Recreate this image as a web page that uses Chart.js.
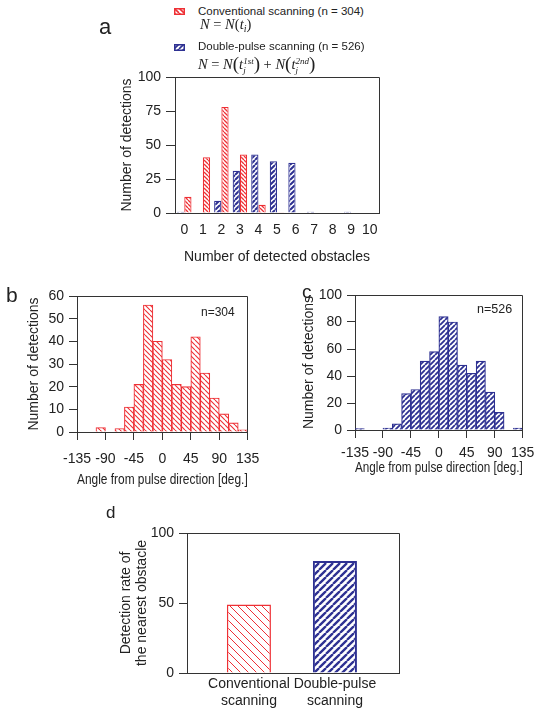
<!DOCTYPE html>
<html>
<head>
<meta charset="utf-8">
<script src="https://cdn.jsdelivr.net/npm/chart.js@4.4.1/dist/chart.umd.min.js"></script>
<style>
  body { margin: 0; background: #fff; width: 541px; height: 714px; position: relative; overflow: hidden;
         font-family: "Liberation Sans", Arial, sans-serif; color: #222; }
  canvas { position: absolute; }
  .txt { position: absolute; line-height: 1; white-space: nowrap; }
  .math { position: absolute; line-height: 1; white-space: nowrap; font-family: "Liberation Serif", "Times New Roman", serif; font-size: 14.5px; }
  .math sub { font-size: 10px; vertical-align: -3px; }
  .ss { display: inline-block; vertical-align: -4px; font-size: 9px; line-height: 8.5px; text-align: left; }
  .ss span { display: block; }
  .big { font-size: 19px; vertical-align: -1px; }
</style>
</head>
<body>
<canvas id="chartA" width="300" height="210" style="left:100px;top:60px;width:300px;height:210px"></canvas>
<canvas id="chartB" width="270" height="220" style="left:0px;top:280px;width:270px;height:220px"></canvas>
<canvas id="chartC" width="271" height="220" style="left:270px;top:280px;width:271px;height:220px"></canvas>
<canvas id="chartD" width="420" height="214" style="left:60px;top:500px;width:420px;height:214px"></canvas>

<canvas id="swRed" width="11" height="7" style="left:174px;top:8px"></canvas>
<canvas id="swBlue" width="11" height="7" style="left:174px;top:44px"></canvas>
<div class="txt" style="left:198px;top:6px;font-size:11.5px">Conventional scanning (n = 304)</div>
<div class="math" style="left:200px;top:17.2px"><i>N</i> = <i>N</i>(<i>t</i><sub><i>i</i></sub>)</div>
<div class="txt" style="left:198px;top:41px;font-size:11.5px">Double-pulse scanning (n = 526)</div>
<div class="math" style="left:198px;top:53.8px"><i>N</i> = <i>N</i><span class="big">(</span><i>t</i><span class="ss"><span><i>1st</i></span><span><i>j</i></span></span><span class="big">)</span> + <i>N</i><span class="big">(</span><i>t</i><span class="ss"><span><i>2nd</i></span><span><i>j</i></span></span><span class="big">)</span></div>

<div class="txt" style="left:99px;top:16.4px;font-size:22px">a</div>
<div class="txt" style="left:6px;top:284px;font-size:21px">b</div>
<div class="txt" style="left:302px;top:282px;font-size:19px">c</div>
<div class="txt" style="left:106px;top:503.6px;font-size:17px">d</div>
<div class="txt" style="left:201px;top:305.8px;font-size:12px">n=304</div>
<div class="txt" style="left:477px;top:303.4px;font-size:12.5px">n=526</div>

<script>
// panel a: number of detected obstacles
const obstacleCounts = ['0', '1', '2', '3', '4', '5', '6', '7', '8', '9', '10'];
const conventionalCounts = [12, 41, 78, 43, 6, 0.5, 0, 0, 0, 0, 0];
const doublePulseCounts = [1, 0, 9, 31, 43, 38, 37, 1, 0, 1, 0];

// panels b and c: angle histograms, 15 deg bins
const angleBinCenters = [-127.5, -112.5, -97.5, -82.5, -67.5, -52.5, -37.5, -22.5, -7.5,
                         7.5, 22.5, 37.5, 52.5, 67.5, 82.5, 97.5, 112.5, 127.5];
const conventionalAngles = [0, 0, 2, 0, 1.5, 11, 21, 56, 40, 32, 21, 20, 42, 26, 15, 8, 4, 1];
const doublePulseAngles = [1, 0, 0, 1.5, 4.5, 27, 30, 51, 58, 84, 80, 48, 42, 51, 28, 13, 0, 1.5];

// panel d: detection rate of the nearest obstacle
const methods = [['Conventional', 'scanning'], ['Double-pulse', 'scanning']];
const nearestRate = [49, 80];

const axisColor = '#333';
const red = '#ee3035';
const blue = '#2e3192';

Chart.defaults.font.family = '"Liberation Sans", Arial, sans-serif';
Chart.defaults.font.size = 14;
Chart.defaults.color = '#222';

// diagonal hatch; slope 1 = "/", -1 = "\"
function hatch(color, size, lw, slope) {
  const c = document.createElement('canvas');
  c.width = c.height = size;
  const g = c.getContext('2d');
  g.fillStyle = '#fff';
  g.fillRect(0, 0, size, size);
  g.strokeStyle = color;
  g.lineWidth = lw;
  g.beginPath();
  for (let k = -1; k <= 1; k++) {
    if (slope > 0) {
      g.moveTo(k * size, size); g.lineTo(k * size + size, 0);
    } else {
      g.moveTo(k * size, 0); g.lineTo(k * size + size, size);
    }
  }
  g.stroke();
  return g.createPattern(c, 'repeat');
}

// top and right edges of the plot frame
const boxPlugin = {
  id: 'box',
  afterDatasetsDraw(chart) {
    const { ctx, chartArea: a } = chart;
    const l = Math.round(a.left - 0.5) + 0.5, r = Math.round(a.right - 0.5) + 0.5;
    const t = Math.round(a.top - 0.5) + 0.5, b = Math.round(a.bottom - 0.5) + 0.5;
    ctx.save();
    ctx.strokeStyle = axisColor;
    ctx.lineWidth = 1;
    ctx.beginPath();
    ctx.moveTo(l, t); ctx.lineTo(r, t); ctx.lineTo(r, b);
    ctx.stroke();
    ctx.restore();
  }
};

function yAxis(max, step, title, titlePad, width) {
  return {
    min: 0, max: max,
    ticks: { stepSize: step, padding: 5, color: '#222' },
    grid: { display: true, drawOnChartArea: false, drawTicks: true, tickLength: 8, color: axisColor },
    border: { display: true, color: axisColor },
    title: { display: true, text: title, color: '#222', padding: { top: titlePad, bottom: 0 } },
    afterFit: s => { s.width = width; }
  };
}

function angleAxis(tickPad, titlePad, height) {
  return {
    type: 'linear', min: -135, max: 135, offset: false,
    ticks: { stepSize: 45, padding: tickPad, autoSkip: false, maxRotation: 0, color: '#222' },
    grid: { display: true, offset: false, drawOnChartArea: false, drawTicks: true, tickLength: 8, color: axisColor },
    border: { display: true, color: axisColor },
    title: { display: true, text: 'Angle from pulse direction [deg.]', color: '#222', padding: { top: 0, bottom: titlePad } },
    afterFit: s => { s.height = height; }
  };
}

const base = {
  responsive: false, animation: false, devicePixelRatio: 1,
  plugins: { legend: { display: false }, tooltip: { enabled: false } }
};

// a
new Chart(document.getElementById('chartA'), {
  type: 'bar',
  data: {
    labels: obstacleCounts,
    datasets: [
      { data: doublePulseCounts, backgroundColor: hatch(blue, 5, 2, 1), borderColor: blue, borderWidth: 1.2 },
      { data: conventionalCounts, backgroundColor: hatch(red, 4, 1.3, -1), borderColor: red, borderWidth: 1.2 }
    ]
  },
  options: {
    ...base,
    layout: { padding: { left: 0, top: 17, right: 21, bottom: 0 } },
    datasets: { bar: { categoryPercentage: 0.78, barPercentage: 1 } },
    scales: {
      x: {
        ticks: { padding: 8.6, autoSkip: false, maxRotation: 0, color: '#222' },
        grid: { display: false, drawTicks: false },
        border: { display: true, color: axisColor },
        title: { display: true, text: 'Number of detected obstacles', color: '#222', padding: { top: 0, bottom: 4.6 } },
        afterFit: s => { s.height = 57; }
      },
      y: { ...yAxis(100, 25, 'Number of detections', 19, 75), grid: { display: true, drawOnChartArea: false, drawTicks: true, tickLength: 9, color: axisColor } }
    }
  },
  plugins: [boxPlugin]
});

// b
new Chart(document.getElementById('chartB'), {
  type: 'bar',
  data: {
    datasets: [{
      data: angleBinCenters.map((x, i) => ({ x: x, y: conventionalAngles[i] })),
      backgroundColor: hatch(red, 5, 1.1, -1), borderColor: red, borderWidth: 1.1
    }]
  },
  options: {
    ...base,
    layout: { padding: { left: 0, top: 16, right: 21, bottom: 0 } },
    datasets: { bar: { categoryPercentage: 1, barPercentage: 1, grouped: false } },
    scales: {
      x: angleAxis(10.6, 11, 68),
      y: yAxis(60, 10, 'Number of detections', 25.6, 77)
    }
  },
  plugins: [boxPlugin]
});

// c
new Chart(document.getElementById('chartC'), {
  type: 'bar',
  data: {
    datasets: [{
      data: angleBinCenters.map((x, i) => ({ x: x, y: doublePulseAngles[i] })),
      backgroundColor: hatch(blue, 5, 1.8, 1), borderColor: blue, borderWidth: 1.2
    }]
  },
  options: {
    ...base,
    layout: { padding: { left: 0, top: 15, right: 14, bottom: 0 } },
    datasets: { bar: { categoryPercentage: 1, barPercentage: 1, grouped: false } },
    scales: {
      x: angleAxis(6.6, 23, 70),
      y: yAxis(100, 20, 'Number of detections', 30.6, 85)
    }
  },
  plugins: [boxPlugin]
});

// d
new Chart(document.getElementById('chartD'), {
  type: 'bar',
  data: {
    datasets: [{
      data: nearestRate.map((v, i) => ({ x: i, y: v })),
      backgroundColor: [hatch(red, 8, 1, -1), hatch(blue, 7, 2.3, 1)],
      borderColor: [red, blue], borderWidth: [1.5, 2]
    }]
  },
  options: {
    ...base,
    layout: { padding: { left: 0, top: 33, right: 81, bottom: 0 } },
    datasets: { bar: { categoryPercentage: 0.512, barPercentage: 1, grouped: false } },
    scales: {
      x: {
        type: 'linear', min: -0.72, max: 1.745, offset: false,
        afterBuildTicks: s => { s.ticks = methods.map((m, i) => ({ value: i })); },
        ticks: { padding: 2.6, autoSkip: false, maxRotation: 0, color: '#222', callback: v => methods[v] },
        grid: { display: false, drawTicks: false },
        border: { display: true, color: axisColor },
        afterFit: s => { s.height = 41; }
      },
      y: {
        ...yAxis(100, 50, ['Detection rate of', 'the nearest obstacle'], 58, 127),
        title: { display: true, text: ['Detection rate of', 'the nearest obstacle'], color: '#222',
                 font: { size: 14, lineHeight: 16 / 14 }, padding: { top: 58, bottom: 0 } }
      }
    }
  },
  plugins: [boxPlugin]
});

// legend swatches
function swatch(id, pattern, color) {
  const g = document.getElementById(id).getContext('2d');
  g.fillStyle = pattern;
  g.fillRect(0, 0, 11, 7);
  g.strokeStyle = color;
  g.lineWidth = 1.5;
  g.strokeRect(0.75, 0.75, 9.5, 5.5);
}
swatch('swRed', hatch(red, 5, 1.6, -1), red);
swatch('swBlue', hatch(blue, 5, 1.6, 1), blue);
</script>
</body>
</html>
